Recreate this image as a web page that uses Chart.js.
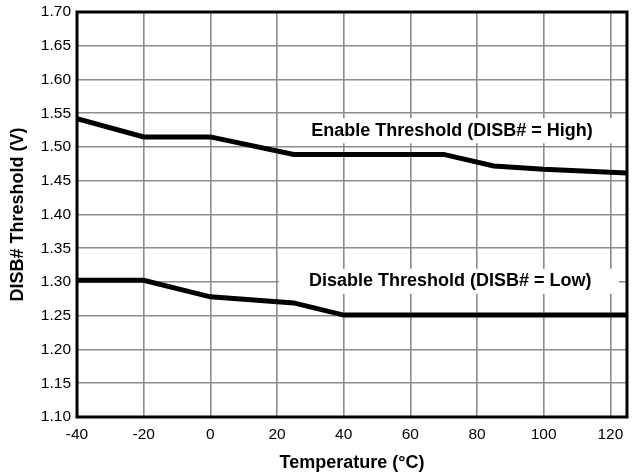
<!DOCTYPE html>
<html>
<head>
<meta charset="utf-8">
<script src="https://cdn.jsdelivr.net/npm/chart.js@4"></script>
<style>
html,body{margin:0;padding:0;background:#fff;}
#wrap{width:636px;height:476px;}
</style>
</head>
<body>
<div id="wrap"><canvas id="c" width="636" height="476"></canvas></div>
<script>
const enableTemps = [-40, -20, 0, 25, 70, 85, 100, 125];
const enableVolts = [1.542, 1.515, 1.515, 1.489, 1.489, 1.472, 1.467, 1.4615];
const disableTemps = [-40, -20, 0, 25, 40, 125];
const disableVolts = [1.3025, 1.3025, 1.278, 1.269, 1.251, 1.251];
const xTicks = [-40, -20, 0, 20, 40, 60, 80, 100, 120];
const yTicks = [1.10, 1.15, 1.20, 1.25, 1.30, 1.35, 1.40, 1.45, 1.50, 1.55, 1.60, 1.65, 1.70];
const labels = [
  {text: 'Enable Threshold (DISB# = High)', x: 72.5, y: 1.524},
  {text: 'Disable Threshold (DISB# = Low)', x: 72.0, y: 1.301}
];
const boxXRange = [20.6, 122.6];

const FONT = "'Liberation Sans', Arial, sans-serif";

const annot = {
  id: 'annot',
  beforeDatasetsDraw(chart) {
    const {ctx, scales: {x, y}} = chart;
    ctx.save();
    labels.forEach(l => {
      const cy = y.getPixelForValue(l.y);
      const x0 = x.getPixelForValue(boxXRange[0]);
      const x1 = x.getPixelForValue(boxXRange[1]);
      ctx.fillStyle = '#fff';
      ctx.fillRect(x0, cy - 12.5, x1 - x0, 25);
    });
    ctx.restore();
  },
  afterDatasetsDraw(chart) {
    const {ctx, chartArea: a, scales: {x, y}} = chart;
    ctx.save();
    ctx.fillStyle = '#000';
    ctx.font = "bold 18px " + FONT;
    ctx.textAlign = 'center';
    ctx.textBaseline = 'middle';
    labels.forEach(l => {
      ctx.fillText(l.text, x.getPixelForValue(l.x), y.getPixelForValue(l.y));
    });
    ctx.strokeStyle = '#000';
    ctx.lineWidth = 3;
    ctx.strokeRect(a.left, a.top, a.right - a.left, a.bottom - a.top);
    ctx.restore();
  }
};

new Chart(document.getElementById('c'), {
  type: 'line',
  data: {
    datasets: [
      {data: enableTemps.map((t, i) => ({x: t, y: enableVolts[i]})), borderColor: '#000', borderWidth: 5, pointRadius: 0, tension: 0, fill: false},
      {data: disableTemps.map((t, i) => ({x: t, y: disableVolts[i]})), borderColor: '#000', borderWidth: 5, pointRadius: 0, tension: 0, fill: false}
    ]
  },
  options: {
    responsive: false,
    animation: false,
    devicePixelRatio: 1,
    layout: {padding: {left: 0, right: 9, top: 12, bottom: 0}},
    plugins: {legend: {display: false}, tooltip: {enabled: false}},
    scales: {
      x: {
        type: 'linear', min: -40, max: 125,
        afterBuildTicks: s => { s.ticks = xTicks.map(v => ({value: v})); },
        afterFit: s => { s.height = 59; s.paddingLeft = 0; s.paddingRight = 0; },
        grid: {color: '#8c8c8c', lineWidth: 1.6, drawTicks: false},
        border: {display: false},
        ticks: {color: '#000', font: {family: FONT, size: 15.5}, padding: 8, maxRotation: 0, callback: v => String(v)},
        title: {display: true, text: 'Temperature (°C)', color: '#000', font: {family: FONT, size: 18, weight: 'bold'}, padding: {top: 0, bottom: 2}}
      },
      y: {
        type: 'linear', min: 1.10, max: 1.70,
        afterBuildTicks: s => { s.ticks = yTicks.map(v => ({value: v})); },
        afterFit: s => { s.width = 77; s.paddingTop = 0; s.paddingBottom = 0; },
        grid: {color: '#8c8c8c', lineWidth: 1.6, drawTicks: false},
        border: {display: false},
        ticks: {color: '#000', font: {family: FONT, size: 15.5}, padding: 6, callback: v => Number(v).toFixed(2)},
        title: {display: true, text: 'DISB# Threshold (V)', color: '#000', font: {family: FONT, size: 18, weight: 'bold'}, padding: {top: 7, bottom: 0}}
      }
    }
  },
  plugins: [annot]
});
</script>
</body>
</html>
